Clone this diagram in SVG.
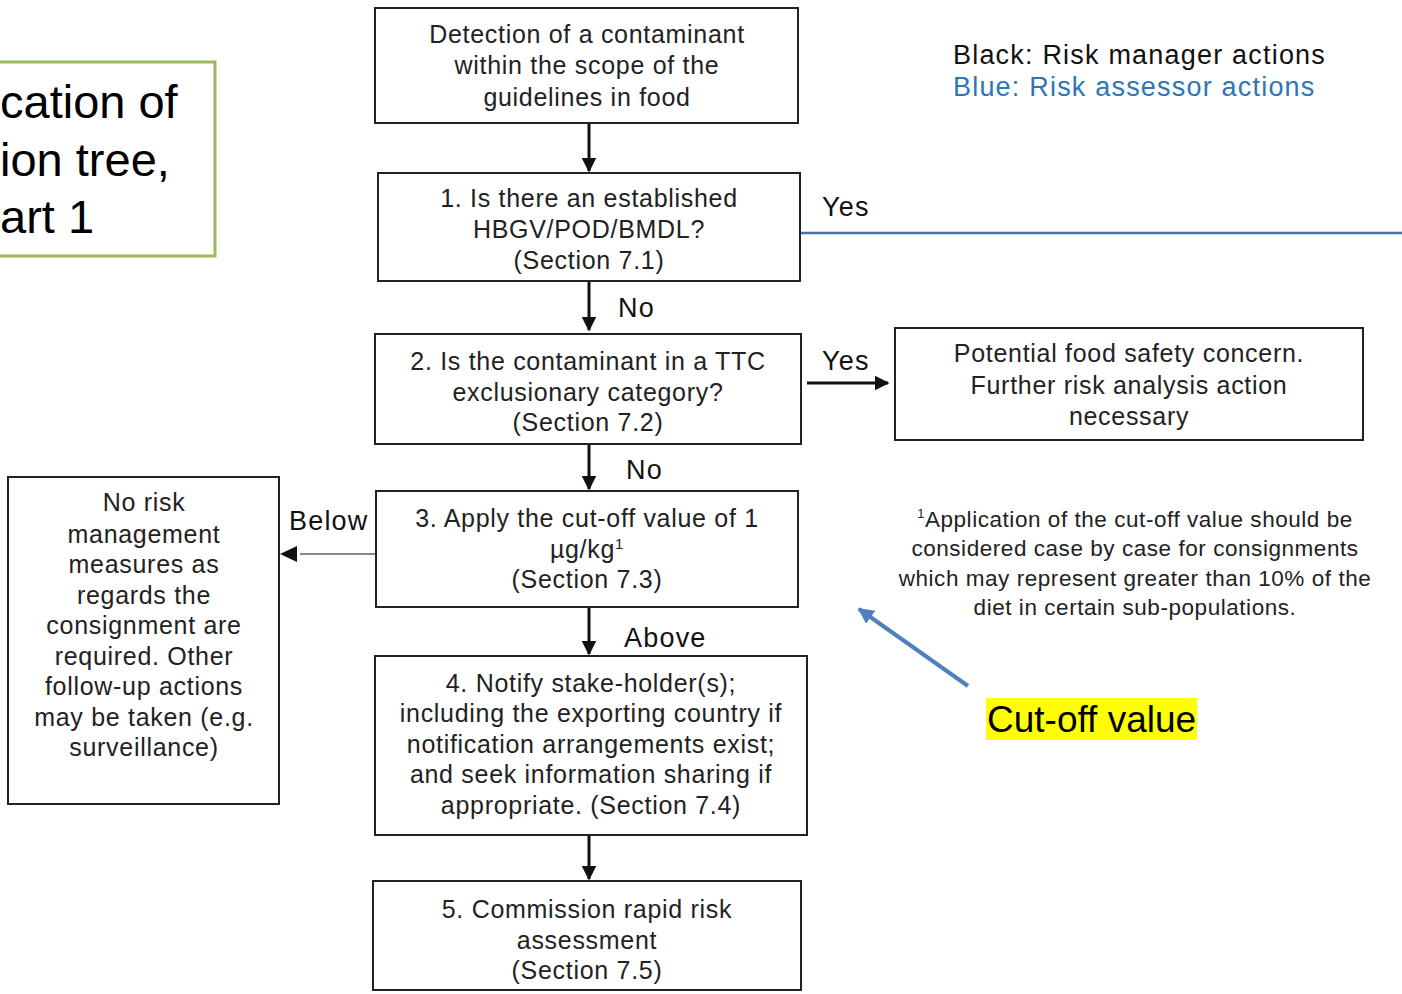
<svg xmlns="http://www.w3.org/2000/svg" width="1402" height="994" viewBox="0 0 1402 994">
<style>
.box{fill:#fff;stroke:#222;stroke-width:2}
.t{font-family:"Liberation Sans",Arial,sans-serif;font-size:25px;letter-spacing:0.7px;fill:#222;text-anchor:middle}
.lbl{font-family:"Liberation Sans",Arial,sans-serif;font-size:27px;letter-spacing:1.2px;fill:#111}
.fn{font-family:"Liberation Sans",Arial,sans-serif;font-size:22.5px;letter-spacing:0.55px;fill:#222;text-anchor:middle}
.ar{stroke:#111;stroke-width:3;fill:none;marker-end:url(#ah)}
</style>
<defs>
<marker id="ah" viewBox="0 0 10 10" refX="9" refY="5" markerWidth="5" markerHeight="5" orient="auto" markerUnits="strokeWidth"><path d="M0,0 L10,5 L0,10 z" fill="#111"/></marker>
<marker id="ahb" viewBox="0 0 10 10" refX="9" refY="5" markerWidth="4" markerHeight="4" orient="auto" markerUnits="strokeWidth"><path d="M0,0 L10,5 L0,10 z" fill="#4f81bd"/></marker>
</defs>
<rect width="1402" height="994" fill="#fff"/>

<g id="title">
<rect x="-10" y="62" width="225" height="194" fill="#fff" stroke="#9bbb59" stroke-width="3"/>
<text x="0" y="118" font-family="Liberation Sans,Arial,sans-serif" font-size="47" fill="#000">cation of</text>
<text x="0" y="176" font-family="Liberation Sans,Arial,sans-serif" font-size="47" fill="#000">ion tree,</text>
<text x="0" y="233" font-family="Liberation Sans,Arial,sans-serif" font-size="47" fill="#000">art 1</text>
</g>

<g id="legend">
<text x="953" y="64" font-family="Liberation Sans,Arial,sans-serif" font-size="27" letter-spacing="1.2" fill="#111">Black: Risk manager actions</text>
<text x="953" y="96" font-family="Liberation Sans,Arial,sans-serif" font-size="27" letter-spacing="1.2" fill="#2e75b6">Blue: Risk assessor actions</text>
</g>

<g id="connectors">
<line class="ar" x1="589" y1="124" x2="589" y2="171"/>
<line class="ar" x1="589" y1="282" x2="589" y2="330"/>
<line class="ar" x1="589" y1="445" x2="589" y2="489"/>
<line class="ar" x1="589" y1="608" x2="589" y2="654"/>
<line class="ar" x1="589" y1="836" x2="589" y2="879"/>
<line class="ar" x1="807" y1="383" x2="888" y2="383"/>
<line x1="376" y1="554" x2="300" y2="554" stroke="#888" stroke-width="2"/>
<path d="M297,546 L280,554 L297,562 z" fill="#111"/>
<line x1="800" y1="233" x2="1402" y2="233" stroke="#4a6fa5" stroke-width="2.5"/>
<line x1="968" y1="686" x2="859" y2="609" stroke="#4f81bd" stroke-width="4" marker-end="url(#ahb)"/>
<text class="lbl" x="822" y="216">Yes</text>
<text class="lbl" x="618" y="317">No</text>
<text class="lbl" x="822" y="370">Yes</text>
<text class="lbl" x="626" y="479">No</text>
<text class="lbl" x="289" y="530">Below</text>
<text class="lbl" x="624" y="647">Above</text>
</g>

<g id="n0">
<rect class="box" x="375" y="8" width="423" height="115"/>
<text class="t" x="587" y="43">Detection of a contaminant</text>
<text class="t" x="587" y="74">within the scope of the</text>
<text class="t" x="587" y="106">guidelines in food</text>
</g>
<g id="n1">
<rect class="box" x="378" y="173" width="422" height="108"/>
<text class="t" x="589" y="207">1. Is there an established</text>
<text class="t" x="589" y="238">HBGV/POD/BMDL?</text>
<text class="t" x="589" y="269">(Section 7.1)</text>
</g>
<g id="n2">
<rect class="box" x="375" y="334" width="426" height="110"/>
<text class="t" x="588" y="370">2. Is the contaminant in a TTC</text>
<text class="t" x="588" y="401">exclusionary category?</text>
<text class="t" x="588" y="431">(Section 7.2)</text>
</g>
<g id="n3">
<rect class="box" x="376" y="491" width="422" height="116"/>
<text class="t" x="587" y="527">3. Apply the cut-off value of 1</text>
<text class="t" x="587" y="558">µg/kg<tspan font-size="15" dy="-9">1</tspan></text>
<text class="t" x="587" y="588">(Section 7.3)</text>
</g>
<g id="n4">
<rect class="box" x="375" y="656" width="432" height="179"/>
<text class="t" x="591" y="692">4. Notify stake-holder(s);</text>
<text class="t" x="591" y="722">including the exporting country if</text>
<text class="t" x="591" y="753">notification arrangements exist;</text>
<text class="t" x="591" y="783">and seek information sharing if</text>
<text class="t" x="591" y="814">appropriate. (Section 7.4)</text>
</g>
<g id="n5">
<rect class="box" x="373" y="881" width="428" height="109"/>
<text class="t" x="587" y="918">5. Commission rapid risk</text>
<text class="t" x="587" y="949">assessment</text>
<text class="t" x="587" y="979">(Section 7.5)</text>
</g>
<g id="nLeft">
<rect class="box" x="8" y="477" width="271" height="327"/>
<text class="t" x="144" y="511">No risk</text>
<text class="t" x="144" y="543">management</text>
<text class="t" x="144" y="573">measures as</text>
<text class="t" x="144" y="604">regards the</text>
<text class="t" x="144" y="634">consignment are</text>
<text class="t" x="144" y="665">required. Other</text>
<text class="t" x="144" y="695">follow-up actions</text>
<text class="t" x="144" y="726">may be taken (e.g.</text>
<text class="t" x="144" y="756">surveillance)</text>
</g>
<g id="nRight">
<rect class="box" x="895" y="328" width="468" height="112"/>
<text class="t" x="1129" y="362">Potential food safety concern.</text>
<text class="t" x="1129" y="394">Further risk analysis action</text>
<text class="t" x="1129" y="425">necessary</text>
</g>
<g id="footnote">
<text class="fn" x="1135" y="527"><tspan font-size="13" dy="-9">1</tspan><tspan dy="9">Application of the cut-off value should be</tspan></text>
<text class="fn" x="1135" y="556">considered case by case for consignments</text>
<text class="fn" x="1135" y="586">which may represent greater than 10% of the</text>
<text class="fn" x="1135" y="615">diet in certain sub-populations.</text>
</g>
<g id="cutoff">
<rect x="986" y="698" width="211" height="42" fill="#ffff00"/>
<text x="987" y="732" font-family="Liberation Sans,Arial,sans-serif" font-size="37" fill="#000">Cut-off value</text>
</g>
</svg>
